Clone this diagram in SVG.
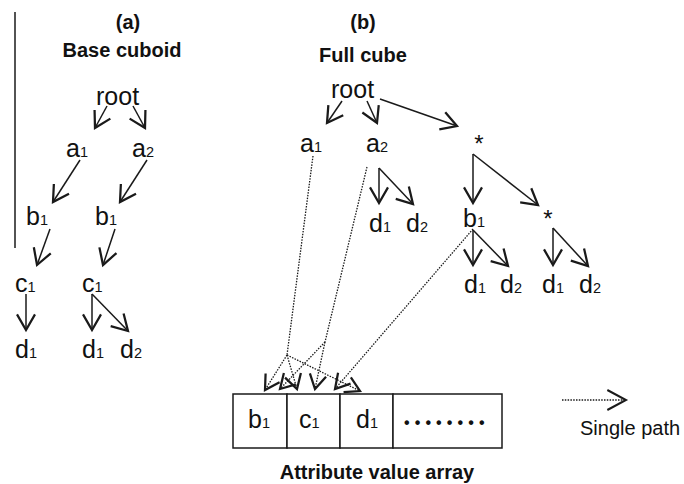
<svg xmlns="http://www.w3.org/2000/svg" width="684" height="484" viewBox="0 0 684 484">
  <defs>
    <style>
      text { font-family: "Liberation Sans", Arial, Helvetica, sans-serif; fill: #111; }
      .lbl { font-size: 25px; }
      .sub { font-size: 14.5px; }
      .hdr { font-size: 20px; font-weight: bold; text-anchor: middle; }
      .star { font-size: 24px; text-anchor: middle; }
      .solid { fill: none; stroke: #1a1a1a; stroke-width: 1.5; marker-end: url(#open); }
      .dot { fill: none; stroke: #1a1a1a; stroke-width: 1.3; stroke-dasharray: 1.5 1.3; }
      .dotarr { marker-end: url(#openDot); }
      .cell { fill: #fff; stroke: #1a1a1a; stroke-width: 1.5; }
    </style>
    <marker id="open" markerUnits="userSpaceOnUse" markerWidth="24" markerHeight="24" refX="0" refY="0" viewBox="-13 -8 15 16" orient="auto" overflow="visible">
      <path d="M-10.4,-6 L0,0 L-10.4,6" fill="none" stroke="#1a1a1a" stroke-width="1.5" stroke-linejoin="miter"/>
    </marker>
    <marker id="openDot" markerUnits="userSpaceOnUse" markerWidth="24" markerHeight="24" refX="0" refY="0" viewBox="-13 -8 15 16" orient="auto" overflow="visible">
      <path d="M-9.5,-5.5 L0,0 L-9.5,5.5" fill="none" stroke="#1a1a1a" stroke-width="1.5"/>
    </marker>
    <marker id="openLegend" markerUnits="userSpaceOnUse" markerWidth="24" markerHeight="24" refX="0" refY="0" viewBox="-16 -9 18 18" orient="auto" overflow="visible">
      <path d="M-14,-7.5 L0,0 L-14,7.5" fill="none" stroke="#1a1a1a" stroke-width="1.5"/>
    </marker>
  </defs>

  <rect width="684" height="484" fill="#fff"/>

  <!-- separator rule on the left -->
  <line x1="15" y1="12" x2="15" y2="248" stroke="#1a1a1a" stroke-width="1.5"/>

  <!-- headings -->
  <g id="headings">
    <text class="hdr" x="128" y="29">(a)</text>
    <text class="hdr" x="122" y="57">Base cuboid</text>
    <text class="hdr" x="363" y="29">(b)</text>
    <text class="hdr" x="363" y="62">Full cube</text>
  </g>

  <!-- (a) base cuboid tree -->
  <g id="a-root"><text class="lbl" x="96" y="105">root</text></g>
  <g id="a-a1"><text class="lbl" x="66" y="157">a<tspan class="sub">1</tspan></text></g>
  <g id="a-a2"><text class="lbl" x="132" y="157">a<tspan class="sub">2</tspan></text></g>
  <g id="a-b1-left"><text class="lbl" x="26" y="225">b<tspan class="sub">1</tspan></text></g>
  <g id="a-b1-right"><text class="lbl" x="95" y="225">b<tspan class="sub">1</tspan></text></g>
  <g id="a-c1-left"><text class="lbl" x="15" y="292">c<tspan class="sub">1</tspan></text></g>
  <g id="a-c1-right"><text class="lbl" x="82" y="292">c<tspan class="sub">1</tspan></text></g>
  <g id="a-d1-left"><text class="lbl" x="15" y="358">d<tspan class="sub">1</tspan></text></g>
  <g id="a-d1-right"><text class="lbl" x="82" y="358">d<tspan class="sub">1</tspan></text></g>
  <g id="a-d2"><text class="lbl" x="120" y="358">d<tspan class="sub">2</tspan></text></g>

  <!-- (b) full cube tree -->
  <g id="b-root"><text class="lbl" x="331" y="98">root</text></g>
  <g id="b-a1"><text class="lbl" x="300" y="152">a<tspan class="sub">1</tspan></text></g>
  <g id="b-a2"><text class="lbl" x="366" y="152">a<tspan class="sub">2</tspan></text></g>
  <g id="b-a2-d1"><text class="lbl" x="369" y="232">d<tspan class="sub">1</tspan></text></g>
  <g id="b-a2-d2"><text class="lbl" x="406" y="232">d<tspan class="sub">2</tspan></text></g>
  <g id="b-star"><text class="star" x="479" y="152">*</text></g>
  <g id="b-b1"><text class="lbl" x="463" y="227">b<tspan class="sub">1</tspan></text></g>
  <g id="b-star2"><text class="star" x="548" y="227">*</text></g>
  <g id="b-b1-d1"><text class="lbl" x="464" y="293">d<tspan class="sub">1</tspan></text></g>
  <g id="b-b1-d2"><text class="lbl" x="500" y="293">d<tspan class="sub">2</tspan></text></g>
  <g id="b-star2-d1"><text class="lbl" x="542" y="293">d<tspan class="sub">1</tspan></text></g>
  <g id="b-star2-d2"><text class="lbl" x="579" y="293">d<tspan class="sub">2</tspan></text></g>

  <!-- attribute value array -->
  <g id="array">
    <rect class="cell" x="233" y="394" width="54" height="54"/>
    <rect class="cell" x="287" y="394" width="53" height="54"/>
    <rect class="cell" x="340" y="394" width="53" height="54"/>
    <rect class="cell" x="393" y="394" width="109" height="54"/>
    <text class="lbl" x="248" y="428">b<tspan class="sub">1</tspan></text>
    <text class="lbl" x="299" y="428">c<tspan class="sub">1</tspan></text>
    <text class="lbl" x="356" y="428">d<tspan class="sub">1</tspan></text>
    <text x="404" y="428" font-size="16" font-weight="bold" letter-spacing="5.1">••••••••</text>
    <text class="hdr" x="377" y="479">Attribute value array</text>
  </g>

  <!-- legend -->
  <g id="legend">
    <line class="dot" x1="562" y1="400" x2="626" y2="400" marker-end="url(#openLegend)"/>
    <text x="580" y="435" font-size="20">Single path</text>
  </g>

  <!-- connectors -->
  <g id="connectors">
    <!-- (a) -->
    <line class="solid" x1="107" y1="106" x2="95" y2="128"/>
    <line class="solid" x1="133" y1="106" x2="145" y2="128"/>
    <line class="solid" x1="80" y1="160" x2="53" y2="202"/>
    <line class="solid" x1="147" y1="160" x2="120" y2="202"/>
    <line class="solid" x1="50" y1="229" x2="37" y2="265"/>
    <line class="solid" x1="115" y1="229" x2="103" y2="265"/>
    <line class="solid" x1="26" y1="294" x2="26" y2="330"/>
    <line class="solid" x1="92" y1="294" x2="92" y2="330"/>
    <line class="solid" x1="92" y1="294" x2="128" y2="331"/>
    <!-- (b) -->
    <line class="solid" x1="342" y1="101" x2="327" y2="123"/>
    <line class="solid" x1="367" y1="101" x2="377" y2="123"/>
    <line class="solid" x1="380" y1="99" x2="457" y2="126"/>
    <line class="solid" x1="379" y1="168" x2="379" y2="203"/>
    <line class="solid" x1="379" y1="168" x2="413" y2="204"/>
    <line class="solid" x1="473" y1="154" x2="473" y2="203"/>
    <line class="solid" x1="473" y1="154" x2="538" y2="205"/>
    <line class="solid" x1="473" y1="230" x2="473" y2="265"/>
    <line class="solid" x1="473" y1="230" x2="508" y2="266"/>
    <line class="solid" x1="553" y1="228" x2="553" y2="265"/>
    <line class="solid" x1="553" y1="228" x2="588" y2="266"/>
    <!-- single paths into the array -->
    <line class="dot" x1="313" y1="156" x2="287" y2="355"/>
    <line class="dot dotarr" x1="287" y1="355" x2="265" y2="390"/>
    <line class="dot dotarr" x1="287" y1="355" x2="297" y2="389"/>
    <line class="dot dotarr" x1="287" y1="355" x2="360" y2="391"/>
    <line class="dot" x1="367" y1="167" x2="325" y2="342"/>
    <line class="dot dotarr" x1="325" y1="342" x2="280" y2="389"/>
    <line class="dot dotarr" x1="325" y1="342" x2="315" y2="389"/>
    <line class="dot dotarr" x1="473" y1="229" x2="335" y2="389"/>
  </g>
</svg>
